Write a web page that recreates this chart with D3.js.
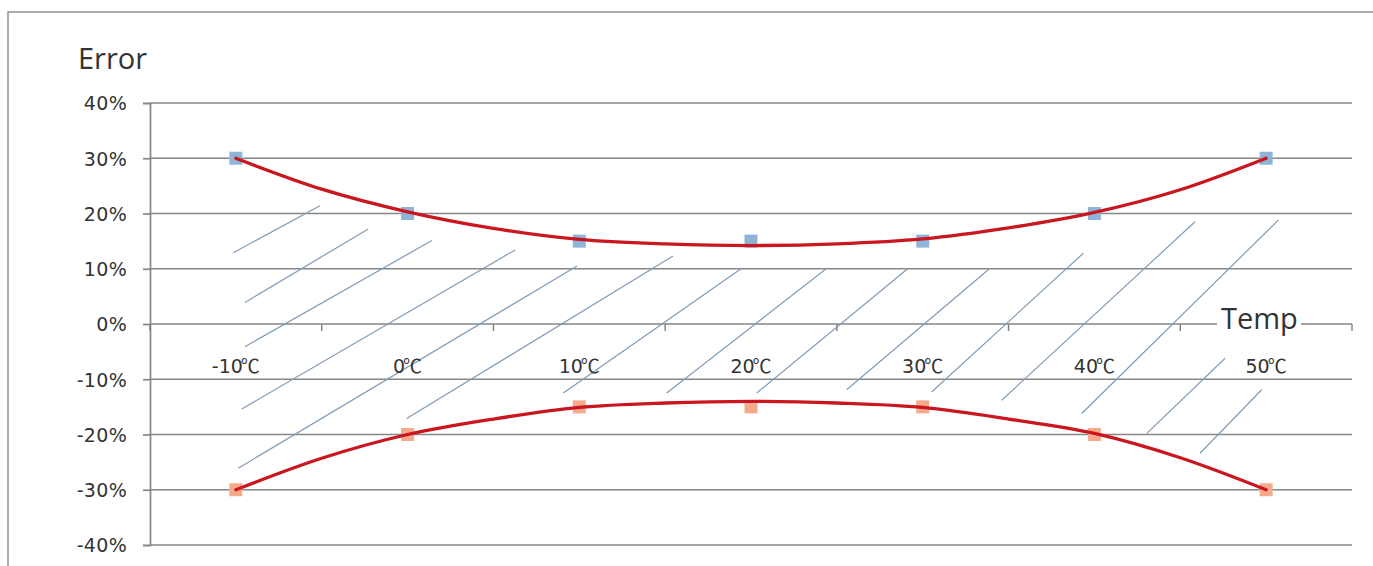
<!DOCTYPE html>
<html>
<head>
<meta charset="utf-8">
<script src="https://cdn.jsdelivr.net/npm/d3@7"></script>
<style>
  html, body { margin: 0; padding: 0; background: #ffffff; }
  svg { display: block; }
</style>
</head>
<body>
<svg id="chart" width="1373" height="566"></svg>
<script>
// ---------- data ----------
const categories = ["-10℃", "0℃", "10℃", "20℃", "30℃", "40℃", "50℃"];
const upperErrors = [30, 20, 15, 15, 15, 20, 30];
const lowerErrors = [-30, -20, -15, -15, -15, -20, -30];
const yTicks = [40, 30, 20, 10, 0, -10, -20, -30, -40];

// trend lines (x in category units, y in %)
const trendX = [0, 0.5, 1, 1.5, 2, 2.5, 3, 3.5, 4, 4.5, 5, 5.5, 6];
const trendUpper = [30.0, 24.4, 20.3, 17.3, 15.3, 14.5, 14.2, 14.5, 15.4, 17.4, 20.2, 24.3, 30.0];
const trendLower = [-30.0, -24.3, -20.0, -17.2, -15.1, -14.3, -14.0, -14.3, -15.1, -17.2, -19.8, -24.2, -30.0];

// hand-drawn hatch strokes: [x0, y0, x1, y1] in (category units, %)
const hatchLines = [
  [-0.015, 12.9, 0.49, 21.4],
  [0.053, 3.9, 0.771, 17.2],
  [0.053, -4.1, 1.141, 15.1],
  [0.034, -15.4, 1.626, 13.4],
  [0.014, -26.1, 1.987, 10.5],
  [0.995, -17.1, 2.546, 12.3],
  [1.907, -12.5, 2.946, 10.1],
  [2.509, -12.5, 3.441, 10.1],
  [3.033, -12.5, 3.916, 10.1],
  [3.557, -11.9, 4.392, 10.1],
  [4.052, -12.3, 4.935, 12.8],
  [4.460, -13.8, 5.586, 18.5],
  [4.926, -16.2, 6.071, 18.8],
  [5.305, -19.8, 5.761, -6.2],
  [5.615, -23.4, 5.974, -11.9]
];

// ---------- layout ----------
const plot = { left: 150, right: 1352, top: 103, bottom: 545 };
const svg = d3.select("#chart");

const x = d3.scaleLinear().domain([-0.5, categories.length - 0.5]).range([plot.left, plot.right]);
const y = d3.scaleLinear().domain([-40, 40]).range([plot.bottom, plot.top]);

const gridColor = "#868686";
const textColor = "#333333";
const tickFont = "'DejaVu Sans', sans-serif";
const cjkFont = "'Noto Sans CJK SC', sans-serif";
const titleFont = "'Open Sans', 'Noto Sans', sans-serif";

// chart frame
svg.append("rect")
  .attr("x", 8).attr("y", 12).attr("width", 1420).attr("height", 620)
  .attr("fill", "#ffffff").attr("stroke", "#9a9a9a").attr("stroke-width", 1.6);

// y axis via d3.axisLeft
const yAxis = d3.axisLeft(y)
  .tickValues(yTicks)
  .tickSize(7)
  .tickFormat(d => d + "%");
const gy = svg.append("g").attr("transform", `translate(${plot.left},0)`).call(yAxis);
gy.select(".domain").attr("stroke", gridColor).attr("stroke-width", 1.7);
gy.selectAll(".tick line").attr("stroke", gridColor).attr("stroke-width", 1.7);
gy.selectAll(".tick text")
  .attr("x", -23)
  .attr("dy", "0.36em")
  .attr("fill", textColor)
  .style("font-family", tickFont)
  .style("font-size", "19px")
  .style("letter-spacing", "0.3px");

// horizontal gridlines
svg.append("g").selectAll("line")
  .data(yTicks)
  .join("line")
  .attr("x1", plot.left).attr("x2", plot.right)
  .attr("y1", d => y(d)).attr("y2", d => y(d))
  .attr("stroke", gridColor).attr("stroke-width", 1.7);

// x axis at 0% with boundary ticks
const boundaries = d3.range(-0.5, categories.length, 1);
svg.append("g").selectAll("line")
  .data(boundaries)
  .join("line")
  .attr("x1", d => x(d)).attr("x2", d => x(d))
  .attr("y1", y(0)).attr("y2", y(0) + 7)
  .attr("stroke", gridColor).attr("stroke-width", 1.5);

// hatch strokes
svg.append("g").selectAll("line")
  .data(hatchLines)
  .join("line")
  .attr("x1", d => x(d[0])).attr("y1", d => y(d[1]))
  .attr("x2", d => x(d[2])).attr("y2", d => y(d[3]))
  .attr("stroke", "#7f9bb7").attr("stroke-width", 1.2);

// category labels (number part + ℃ glyph)
const catText = svg.append("g").selectAll("text")
  .data(categories)
  .join("text")
  .attr("x", (d, i) => x(i))
  .attr("y", y(0) + 49)
  .attr("text-anchor", "middle")
  .attr("fill", textColor)
  .style("font-size", "19px");
catText.append("tspan")
  .style("font-family", tickFont)
  .text(d => d.replace("℃", ""));
catText.append("tspan")
  .style("font-family", cjkFont)
  .attr("dx", -2)
  .text("℃");

// markers
const msize = 13;
svg.append("g").selectAll("rect")
  .data(upperErrors)
  .join("rect")
  .attr("x", (d, i) => x(i) - msize / 2)
  .attr("y", d => y(d) - msize / 2)
  .attr("width", msize).attr("height", msize)
  .attr("fill", "#8fb4d8");
svg.append("g").selectAll("rect")
  .data(lowerErrors)
  .join("rect")
  .attr("x", (d, i) => x(i) - msize / 2)
  .attr("y", d => y(d) - msize / 2)
  .attr("width", msize).attr("height", msize)
  .attr("fill", "#f6aa8c");

// trend curves
const line = d3.line()
  .x(d => x(d[0])).y(d => y(d[1]))
  .curve(d3.curveCatmullRom.alpha(0.5));
[trendUpper, trendLower].forEach(series => {
  svg.append("path")
    .datum(trendX.map((t, i) => [t, series[i]]))
    .attr("d", line)
    .attr("fill", "none")
    .attr("stroke", "#c9161f")
    .attr("stroke-width", 3.3)
    .attr("stroke-linecap", "round");
});

// axis titles
svg.append("text")
  .attr("x", 78).attr("y", 69)
  .attr("fill", textColor)
  .style("font-family", titleFont)
  .style("font-size", "29px")
  .text("Error");

const tempX = 1221, tempY = 329;
svg.append("rect")
  .attr("x", tempX - 4).attr("y", y(0) - 8).attr("width", 84).attr("height", 16)
  .attr("fill", "#ffffff");
svg.append("text")
  .attr("x", tempX).attr("y", tempY)
  .attr("fill", textColor)
  .style("font-family", titleFont)
  .style("font-size", "29px")
  .text("Temp");
</script>
</body>
</html>
